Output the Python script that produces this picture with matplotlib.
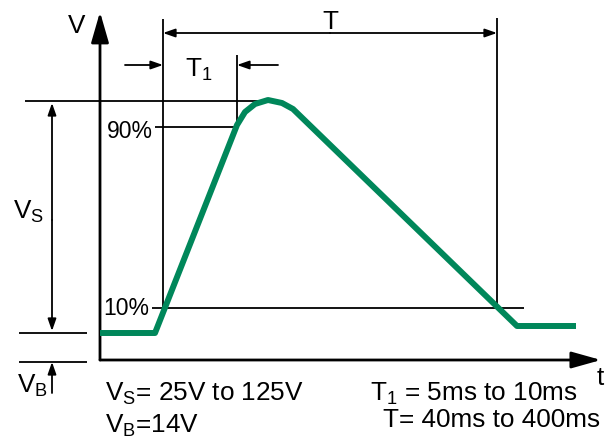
import matplotlib.pyplot as plt

plt.rcParams['font.family'] = ['Liberation Sans', 'DejaVu Sans']
plt.rcParams['mathtext.fontset'] = 'custom'
plt.rcParams['mathtext.rm'] = 'Liberation Sans'
plt.rcParams['mathtext.it'] = 'Liberation Sans'

# waveform, in drawing units (x to the right, y downwards like the picture)
wave_x = [100, 155, 237, 245, 255, 268, 282, 293, 517, 576]
wave_y = [333, 333, 125, 112, 104, 100, 103, 109, 326, 326]

# reference levels
y_top, y_90, y_10, y_base, y_zero = 101, 127, 308, 333, 362
x_start, x_t1, x_end = 163, 237, 497

green = '#00875A'
fs = 18.8

fig = plt.figure(figsize=(6.13, 4.4), dpi=100)
ax = fig.add_axes([0, 0, 1, 1])
ax.set_xlim(0, 613)
ax.set_ylim(440, 0)
ax.axis('off')


def arrow(x0, y0, x1, y1, hl=10, hw=3.5, lw=1.3):
    # head sizes given in pixels
    ax.annotate('', xy=(x1, y1), xytext=(x0, y0),
                arrowprops=dict(arrowstyle='-|>,head_length=%g,head_width=%g' % (hl * 0.72, hw * 0.72),
                                lw=lw, color='k', shrinkA=0, shrinkB=0,
                                mutation_scale=1))


def line(xs, ys, lw=1.3):
    ax.plot(xs, ys, color='k', lw=lw, solid_capstyle='butt')


# axes of the diagram
arrow(100, 360, 100, 12, hl=26, hw=7.5, lw=2)
arrow(100, 360, 601, 360, hl=25, hw=7, lw=2)

# guide lines
line([x_start, x_start], [19, y_10])
line([x_end, x_end], [18, y_10])
line([x_t1, x_t1], [55, y_90])
line([25, 262], [y_top, y_top])
line([155, x_t1], [y_90, y_90])
line([152, 524], [y_10, y_10])
line([19, 87], [y_base, y_base])
line([19, 87], [y_zero, y_zero])

# dimension arrows
arrow(330, 33, x_start, 33)
arrow(330, 33, x_end, 33)
arrow(125, 65, x_start, 65)
arrow(278, 65, x_t1, 65)
arrow(52, 220, 52, y_top + 2)
arrow(52, 220, 52, y_base - 2)
arrow(52, 393, 52, y_zero)

# waveform
ax.plot(wave_x, wave_y, color=green, lw=4.3, solid_joinstyle='round', solid_capstyle='butt', zorder=5)

# labels
ax.text(77, 33, 'V', fontsize=fs, ha='center', va='baseline')
ax.text(330, 29, 'T', fontsize=fs, ha='center', va='baseline')
ax.text(185, 77, 'T$_1$', fontsize=fs, ha='left', va='baseline')
ax.text(153, 138, '90%', fontsize=16.5, ha='right', va='baseline')
ax.text(149, 315, '10%', fontsize=16.5, ha='right', va='baseline')
ax.text(13, 219, 'V$_\\mathrm{S}$', fontsize=fs, ha='left', va='baseline')
ax.text(17, 393, 'V$_\\mathrm{B}$', fontsize=fs, ha='left', va='baseline')
ax.text(600, 385, 't', fontsize=fs, ha='center', va='baseline')

ax.text(105, 401, 'V$_\\mathrm{S}$= 25V to 125V', fontsize=fs, ha='left', va='baseline')
ax.text(105, 433, 'V$_\\mathrm{B}$=14V', fontsize=fs, ha='left', va='baseline')
ax.text(370, 401, 'T$_1$ = 5ms to 10ms', fontsize=fs, ha='left', va='baseline')
ax.text(383, 427, 'T= 40ms to 400ms', fontsize=fs, ha='left', va='baseline')

fig.savefig('out.png', dpi=100)
